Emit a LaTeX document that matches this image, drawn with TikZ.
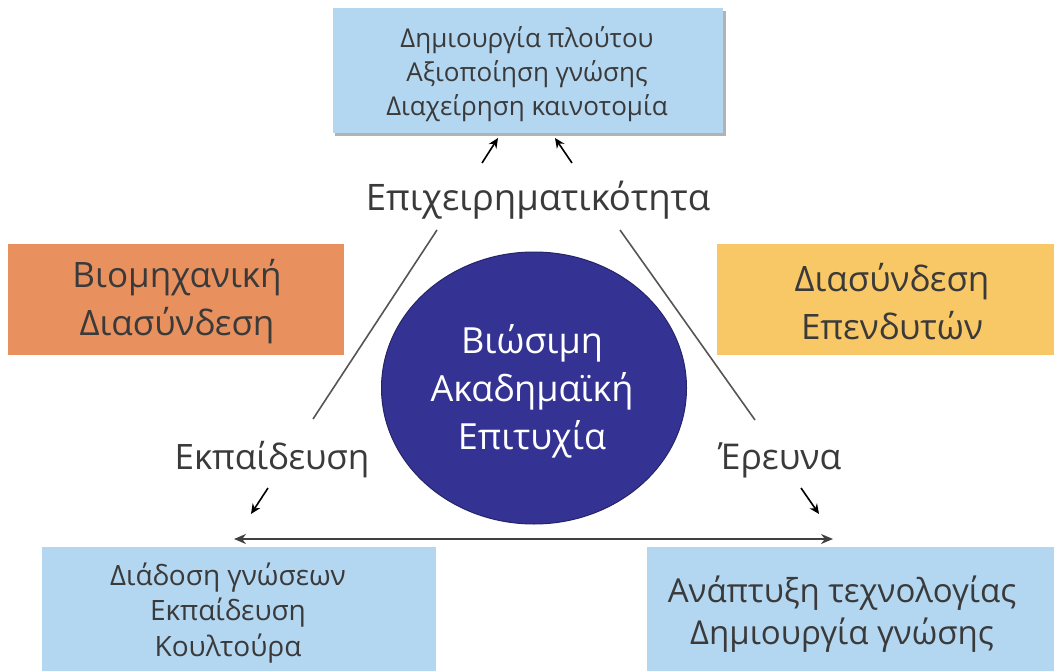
\documentclass[tikz,border=0pt]{standalone}
\usepackage{fontspec}
\setmainfont{Open Sans}
\usetikzlibrary{arrows.meta,shapes.geometric}
\definecolor{boxblue}{HTML}{B3D6F1}
\definecolor{boxorange}{HTML}{E8915E}
\definecolor{boxyellow}{HTML}{F9C866}
\definecolor{circblue}{HTML}{343393}
\definecolor{txtgray}{HTML}{3A3A3A}
\definecolor{linegray}{HTML}{555555}
\tikzset{
  panel/.style={draw=none, inner sep=0pt, outer sep=0pt},
  lbl/.style={text=txtgray, inner sep=0pt, align=center},
  sideline/.style={draw=linegray, line width=1.6pt},
  smallarrow/.style={draw=black, line width=1.6pt, -{Stealth[length=10pt,width=9pt]}},
  bigarrow/.style={draw=black!75, line width=2.6pt, {Stealth[length=12pt,width=10pt]}-{Stealth[length=12pt,width=10pt]}},
}
\begin{document}
\begin{tikzpicture}[x=1pt,y=-1pt]
\path[use as bounding box, fill=white] (0,0) rectangle (1054,671);

% top box with slight shadow
\fill[black!30] (335,11) rectangle (726,136);
\node[panel, fill=boxblue, minimum width=390pt, minimum height=125pt] (topbox) at (528,70.5) {};
\node[lbl, font=\fontsize{26}{34}\selectfont] (toptext) at (527,74.5) {Δημιουργία πλούτου\\Αξιοποίηση γνώσης\\Διαχείρηση καινοτομία};

% entrepreneurship label
\node[lbl, font=\fontsize{36.5}{40}\selectfont, anchor=base] (entre) at (538,210) {Επιχειρηματικότητα};

% top arrows
\coordinate (ta1s) at (482,163); \coordinate (ta1e) at (498,138);
\coordinate (ta2s) at (572,163); \coordinate (ta2e) at (555,138);
\draw[smallarrow] (ta1s) -- (ta1e);
\draw[smallarrow] (ta2s) -- (ta2e);

% side lines
\coordinate (l1s) at (437,230); \coordinate (l1e) at (313,419);
\coordinate (l2s) at (620,230); \coordinate (l2e) at (755,420);
\draw[sideline] (l1s) -- (l1e);
\draw[sideline] (l2s) -- (l2e);

% side boxes
\node[panel, fill=boxorange, minimum width=336pt, minimum height=111pt] (orange) at (176,299.5) {};
\node[lbl, font=\fontsize{35}{48}\selectfont] (orangetext) at (177,302) {Βιομηχανική\\Διασύνδεση};
\node[panel, fill=boxyellow, minimum width=337pt, minimum height=111pt] (yellow) at (885.5,299.5) {};
\node[lbl, font=\fontsize{35}{48}\selectfont] (yellowtext) at (892,302) {Διασύνδεση\\Επενδυτών};

% central ellipse
\node[panel, ellipse, fill=circblue, draw=circblue!70!black, line width=1pt, minimum width=305pt, minimum height=272pt] (centre) at (534,388) {};
\node[lbl, text=white, font=\fontsize{36}{48}\selectfont] (centretext) at (532,391) {Βιώσιμη\\Ακαδημαϊκή\\Επιτυχία};

% lower labels
\node[lbl, font=\fontsize{35}{40}\selectfont, anchor=base] (edu) at (272,469) {Εκπαίδευση};
\node[lbl, font=\fontsize{35.5}{40}\selectfont, anchor=base] (res) at (780,469) {Έρευνα};

% lower arrows
\coordinate (ba1s) at (268,488); \coordinate (ba1e) at (251,514);
\coordinate (ba2s) at (801,488); \coordinate (ba2e) at (819,514);
\draw[smallarrow] (ba1s) -- (ba1e);
\draw[smallarrow] (ba2s) -- (ba2e);

% horizontal double arrow
\coordinate (hl) at (234,539); \coordinate (hr) at (833,539);
\draw[bigarrow] (hl) -- (hr);

% bottom boxes
\node[panel, fill=boxblue, minimum width=394pt, minimum height=130pt] (blbox) at (239,612) {};
\node[lbl, font=\fontsize{28}{35.5}\selectfont] (bltext) at (228,613) {Διάδοση γνώσεων\\Εκπαίδευση\\Κουλτούρα};
\node[panel, fill=boxblue, minimum width=407pt, minimum height=130pt] (brbox) at (850.5,612) {};
\node[lbl, font=\fontsize{33}{42}\selectfont] (brtext) at (842,614) {Ανάπτυξη τεχνολογίας\\Δημιουργία γνώσης};
\end{tikzpicture}
\end{document}
